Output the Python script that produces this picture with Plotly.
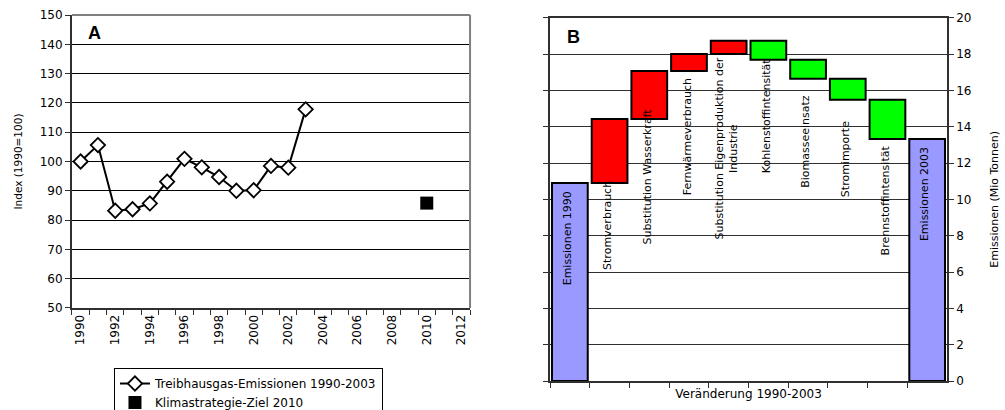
import plotly.graph_objects as go

# ---------------- Data: panel A ----------------
years = list(range(1990, 2004))
index_values = [100, 105.6, 83.2, 83.7, 85.7, 93.1, 100.9, 98.0, 94.7, 90.0, 90.2, 98.5, 97.9, 117.8]
target_year = [2010]
target_value = [85.8]
year_ticks = list(range(1990, 2013, 2))

# ---------------- Data: panel B ----------------
wf_categories = [
    "Emissionen 1990",
    "Stromverbrauch",
    "Substitution Wasserkraft",
    "Fernwärmeverbrauch",
    "Substitution Eigenproduktion der<br>Industrie",
    "Kohlenstoffintensität",
    "Biomasseeinsatz",
    "Stromimporte",
    "Brennstoffintensität",
    "Emissionen 2003",
]
wf_measure = ["absolute", "relative", "relative", "relative", "relative",
              "relative", "relative", "relative", "relative", "total"]
wf_values = [10.9, 3.53, 2.63, 0.94, 0.73, -1.04, -1.05, -1.16, -2.16, 0]
# vertical centre of each rotated category label (in Mio Tonnen)
label_y = [7.85, 8.57, 11.27, 13.47, 12.78, 14.6, 13.17, 12.2, 9.97, 10.3]

FONT = "DejaVu Sans"
DARK = "#303030"
GREY = "#808080"

fig = go.Figure()

fig.add_trace(go.Scatter(
    x=years, y=index_values, mode="lines+markers",
    name="Treibhausgas-Emissionen 1990-2003",
    line=dict(color="black", width=2),
    marker=dict(symbol="diamond", size=11, color="white", line=dict(color="black", width=1.8)),
    xaxis="x", yaxis="y",
))
fig.add_trace(go.Scatter(
    x=target_year, y=target_value, mode="markers",
    name="Klimastrategie-Ziel 2010",
    marker=dict(symbol="square", size=13, color="black"),
    xaxis="x", yaxis="y",
))

fig.add_trace(go.Waterfall(
    x=wf_categories, y=wf_values, measure=wf_measure,
    xaxis="x2", yaxis="y2", showlegend=False, width=0.9,
    textinfo="none",
    increasing=dict(marker=dict(color="#FF0000", line=dict(color="black", width=2))),
    decreasing=dict(marker=dict(color="#00FF00", line=dict(color="black", width=2))),
    totals=dict(marker=dict(color="#9999FF", line=dict(color="black", width=2))),
    connector=dict(visible=False),
))

annotations = []
for cat, ly in zip(wf_categories, label_y):
    annotations.append(dict(
        x=cat, y=ly, xref="x2", yref="y2", text=cat, textangle=-90,
        showarrow=False, font=dict(family=FONT, size=11, color="black"),
        xanchor="center", yanchor="middle", align="center", xshift=-2,
    ))
annotations += [
    dict(x=0.086, y=0.95, xref="paper", yref="paper", text="<b>A</b>", showarrow=False,
         font=dict(family="Liberation Sans", size=18, color="black"), xanchor="left", yanchor="top"),
    dict(x=0.562, y=0.94, xref="paper", yref="paper", text="<b>B</b>", showarrow=False,
         font=dict(family="Liberation Sans", size=18, color="black"), xanchor="left", yanchor="top"),
]

shapes = [
    dict(type="line", xref="x domain", yref="y domain", x0=0, x1=1, y0=1, y1=1,
         line=dict(color=GREY, width=2)),
    dict(type="line", xref="x domain", yref="y domain", x0=1, x1=1, y0=0, y1=1,
         line=dict(color=GREY, width=2)),
]

fig.update_layout(
    width=1005, height=410,
    margin=dict(l=0, r=0, t=0, b=0, autoexpand=False),
    paper_bgcolor="white", plot_bgcolor="white",
    font=dict(family=FONT, size=11, color="black"),
    xaxis=dict(
        domain=[0.0716, 0.4677], anchor="y",
        range=[1989.5, 2012.5], tickmode="array", tickvals=year_ticks,
        ticktext=[str(y) for y in year_ticks], tickangle=-90, ticks="",
        showgrid=False, zeroline=False,
        showline=True, linecolor=DARK, linewidth=2,
        minor=dict(ticks="outside", tick0=1989.5, dtick=1, ticklen=5, tickcolor=DARK, showgrid=False),
        tickfont=dict(family=FONT, size=12),
    ),
    yaxis=dict(
        domain=[0.2488, 0.9634], anchor="x",
        range=[50, 150], dtick=10, tick0=50,
        showgrid=True, gridcolor="black", gridwidth=1, zeroline=False,
        showline=True, linecolor=DARK, linewidth=2,
        ticks="outside", ticklen=5, tickcolor=DARK,
        title=dict(text="Index (1990=100)", font=dict(family=FONT, size=10.5), standoff=15),
        tickfont=dict(family=FONT, size=12),
    ),
    xaxis2=dict(
        domain=[0.5473, 0.9423], anchor="y2", type="category",
        showticklabels=False, ticks="outside", tickson="boundaries", ticklen=5, tickcolor=DARK,
        showgrid=False, zeroline=False,
        showline=True, linecolor=DARK, linewidth=1.5, mirror=True,
        title=dict(text="Veränderung 1990-2003", font=dict(family=FONT, size=12), standoff=8),
    ),
    yaxis2=dict(
        domain=[0.0707, 0.9568], anchor="x2", side="right",
        range=[0, 20], dtick=2, tick0=0,
        showgrid=True, gridcolor=DARK, gridwidth=1, zeroline=False,
        showline=True, linecolor=DARK, linewidth=1.5, mirror="ticks",
        ticks="outside", ticklen=5, tickcolor=DARK,
        title=dict(text="Emissionen (Mio Tonnen)", font=dict(family=FONT, size=11), standoff=20),
        tickfont=dict(family=FONT, size=12),
    ),
    legend=dict(
        x=0.1134, y=0.1024, xanchor="left", yanchor="top",
        bordercolor="black", borderwidth=1, bgcolor="white",
        font=dict(family=FONT, size=12), tracegroupgap=0,
    ),
    annotations=annotations,
    shapes=shapes,
)

fig.write_html("out.html", config={"displayModeBar": False},
               post_script="document.body.style.margin='0';document.body.style.padding='0';")
